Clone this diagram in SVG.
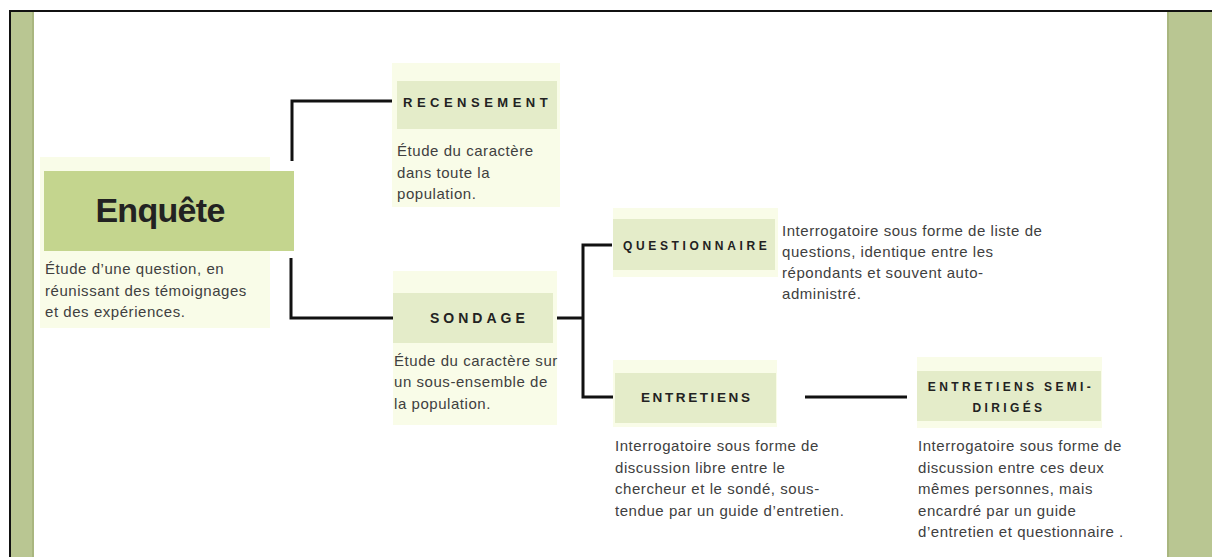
<svg xmlns="http://www.w3.org/2000/svg" width="1212" height="557" viewBox="0 0 1212 557">
  <style>
    .bg { fill: #f9fce8; }
    .hd { fill: #e4ecc9; }
    .title { font-family: "Liberation Sans", Arial, sans-serif; font-weight: bold; fill: #222; }
    .desc { font-family: "Liberation Sans", Arial, sans-serif; font-size: 15px; letter-spacing: 0.55px; fill: #404040; }
    .conn { fill: none; stroke: #111; stroke-width: 3; }
  </style>
  <rect x="0" y="0" width="1212" height="557" fill="#ffffff"/>
  <!-- frame -->
  <rect x="11" y="12" width="23" height="545" fill="#b9c692"/>
  <rect x="32" y="12" width="2" height="545" fill="#a9b67f"/>
  <rect x="1167" y="12" width="45" height="545" fill="#b9c692"/>
  <rect x="1167" y="12" width="2" height="545" fill="#a9b67f"/>
  <line x1="9" y1="11" x2="1212" y2="11" stroke="#111" stroke-width="2"/>
  <line x1="10" y1="10" x2="10" y2="557" stroke="#111" stroke-width="2"/>

  <g id="connectors">
    <polyline class="conn" points="292,161 292,101 395,101"/>
    <polyline class="conn" points="291,258 291,318 393,318"/>
    <line class="conn" x1="553" y1="318" x2="583" y2="318"/>
    <polyline class="conn" points="612,245 583,245 583,397 613,397"/>
    <line class="conn" x1="805" y1="397" x2="907" y2="397"/>
  </g>

  <g id="node-enquete">
    <rect class="bg" x="40" y="157" width="230" height="171"/>
    <rect x="44" y="171" width="250" height="80" fill="#c4d58e"/>
    <text class="title" x="160" y="222" font-size="34" letter-spacing="-0.7" text-anchor="middle" fill="#111">Enquête</text>
    <text class="desc" x="45" y="274">Étude d’une question, en</text>
    <text class="desc" x="45" y="295.5">réunissant des témoignages</text>
    <text class="desc" x="45" y="317">et des expériences.</text>
  </g>

  <g id="node-recensement">
    <rect class="bg" x="392" y="63" width="168" height="144"/>
    <rect class="hd" x="397" y="81" width="160" height="48"/>
    <text class="title" x="403" y="107" font-size="13" letter-spacing="4.5">RECENSEMENT</text>
    <text class="desc" x="397" y="156">Étude du caractère</text>
    <text class="desc" x="397" y="177.5">dans toute la</text>
    <text class="desc" x="397" y="199">population.</text>
  </g>

  <g id="node-sondage">
    <rect class="bg" x="393" y="271" width="164" height="154"/>
    <rect class="hd" x="393" y="293" width="160" height="50"/>
    <text class="title" x="430" y="323" font-size="14" letter-spacing="4">SONDAGE</text>
    <text class="desc" x="394" y="365.5">Étude du caractère sur</text>
    <text class="desc" x="394" y="387">un sous-ensemble de</text>
    <text class="desc" x="394" y="408.5">la population.</text>
  </g>

  <g id="node-questionnaire">
    <rect class="bg" x="613" y="208" width="165" height="69"/>
    <rect class="hd" x="613" y="219" width="162" height="51"/>
    <text class="title" x="623" y="249.5" font-size="12" letter-spacing="3.65">QUESTIONNAIRE</text>
    <text class="desc" x="782" y="236">Interrogatoire sous forme de liste de</text>
    <text class="desc" x="782" y="257">questions, identique entre les</text>
    <text class="desc" x="782" y="278">répondants et souvent auto-</text>
    <text class="desc" x="782" y="299">administré.</text>
  </g>

  <g id="node-entretiens">
    <rect class="bg" x="613" y="360" width="164" height="67"/>
    <rect class="hd" x="615" y="373" width="161" height="50"/>
    <text class="title" x="641" y="402" font-size="13.5" letter-spacing="2.6">ENTRETIENS</text>
    <text class="desc" x="615" y="451">Interrogatoire sous forme de</text>
    <text class="desc" x="615" y="472.5">discussion libre entre le</text>
    <text class="desc" x="615" y="494">chercheur et le sondé, sous-</text>
    <text class="desc" x="615" y="515.5">tendue par un guide d’entretien.</text>
  </g>

  <g id="node-semi-diriges">
    <rect class="bg" x="917" y="357" width="185" height="71"/>
    <rect class="hd" x="917" y="371" width="184" height="50"/>
    <text class="title" x="1011" y="391" font-size="12" letter-spacing="3.35" text-anchor="middle">ENTRETIENS SEMI-</text>
    <text class="title" x="1009" y="412" font-size="12" letter-spacing="3.35" text-anchor="middle">DIRIGÉS</text>
    <text class="desc" x="918" y="451">Interrogatoire sous forme de</text>
    <text class="desc" x="918" y="472.5">discussion entre ces deux</text>
    <text class="desc" x="918" y="494">mêmes personnes, mais</text>
    <text class="desc" x="918" y="515.5">encardré par un guide</text>
    <text class="desc" x="918" y="537">d’entretien et questionnaire .</text>
  </g>
</svg>
